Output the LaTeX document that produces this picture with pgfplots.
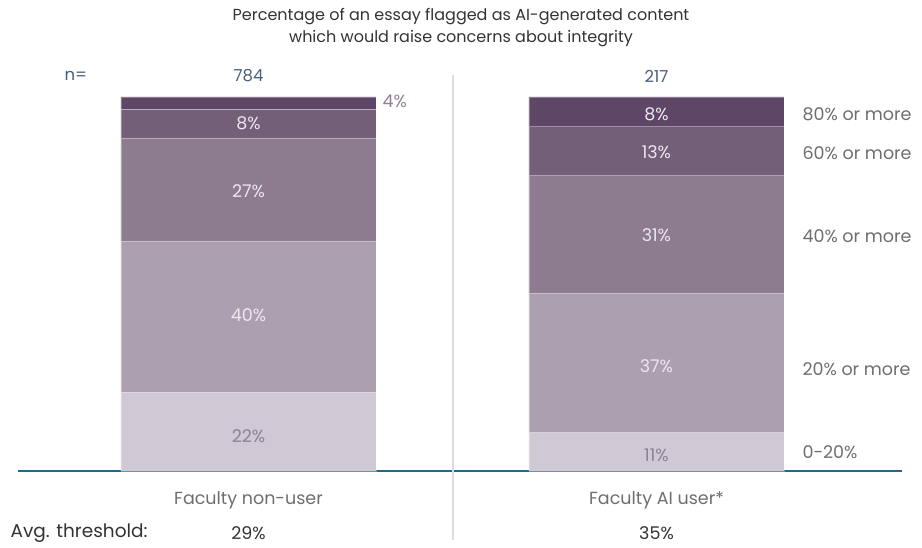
\documentclass[border=0pt]{standalone}
\usepackage{fontspec}
\setmainfont{Poppins}
\usepackage{pgfplots}
\pgfplotsset{compat=1.18}
\definecolor{c80}{HTML}{5E4766}
\definecolor{c60}{HTML}{735F78}
\definecolor{c40}{HTML}{8D7B90}
\definecolor{c20}{HTML}{ACA0B0}
\definecolor{c0}{HTML}{D0C8D4}
\definecolor{lblin}{HTML}{EDE6EF}
\definecolor{lbldark}{HTML}{8F8094}
\definecolor{leg}{HTML}{6E6E6E}
\definecolor{nblue}{HTML}{4A5E7A}
\definecolor{base}{HTML}{1F6A8A}
\definecolor{divider}{HTML}{DCDCDC}
\begin{document}
\begin{tikzpicture}[x=1pt,y=1pt,font=\fontsize{17.5}{20}\selectfont]
\path (0,0) rectangle (922,548);
\begin{axis}[
  at={(18pt,77pt)}, anchor=south west,
  scale only axis, width=884pt, height=374pt,
  xmin=-0.565, xmax=1.602, ymin=0, ymax=100,
  ybar stacked, bar width=255pt,
  axis x line*=bottom, axis y line=none,
  x axis line style={base, line width=1.6pt, -},
  xtick=\empty, ytick=\empty,
  clip=false,
  every axis plot/.append style={draw=white, draw opacity=0.3, line width=0.8pt},
]
\addplot[fill=c0] coordinates {(0,21.1) (1,10.2)};
\addplot[fill=c20] coordinates {(0,40.4) (1,37.4)};
\addplot[fill=c40] coordinates {(0,27.3) (1,31.5)};
\addplot[fill=c60] coordinates {(0,7.8) (1,13.1)};
\addplot[fill=c80] coordinates {(0,3.4) (1,7.8)};
\coordinate (a1) at (axis cs:0,9.4);
\coordinate (a2) at (axis cs:0,41.6);
\coordinate (a3) at (axis cs:0,74.9);
\coordinate (a4) at (axis cs:0,93.1);
\coordinate (a5) at (axis cs:0.32,98.8);
\coordinate (b1) at (axis cs:1,4.3);
\coordinate (b2) at (axis cs:1,27.9);
\coordinate (b3) at (axis cs:1,63.1);
\coordinate (b4) at (axis cs:1,85.2);
\coordinate (b5) at (axis cs:1,95.5);
\end{axis}
% segment labels
\node[text=lbldark] at (a1) {22\%};
\node[text=lblin] at (a2) {40\%};
\node[text=lblin] at (a3) {27\%};
\node[text=lblin] at (a4) {8\%};
\node[text=lbldark, anchor=west] at (a5) {4\%};
\node[text=lbldark] at (b1) {11\%};
\node[text=lblin] at (b2) {37\%};
\node[text=lblin] at (b3) {31\%};
\node[text=lblin] at (b4) {13\%};
\node[text=lblin] at (b5) {8\%};
% divider
\draw[divider, line width=1.2pt] (453,473) -- (453,8);
% title
\node[text=black!80, font=\fontsize{16}{18}\selectfont] at (461,531) {Percentage of an essay flagged as AI-generated content};
\node[text=black!80, font=\fontsize{16}{18}\selectfont] at (461,509) {which would raise concerns about integrity};
% n
\node[text=nblue, anchor=west, font=\fontsize{16.5}{18}\selectfont] at (61,472) {n=};
\node[text=nblue, font=\fontsize{16.5}{18}\selectfont] at (248.5,472) {784};
\node[text=nblue, font=\fontsize{16.5}{18}\selectfont] at (656.5,472) {217};
% legend labels
\node[text=leg, anchor=west] at (799,434) {80\% or more};
\node[text=leg, anchor=west] at (799,395) {60\% or more};
\node[text=leg, anchor=west] at (799,312) {40\% or more};
\node[text=leg, anchor=west] at (799,179) {20\% or more};
\node[text=leg, anchor=west] at (799,96) {0-20\%};
% categories
\node[text=leg] at (248.5,48) {Faculty non-user};
\node[text=leg] at (656.5,48) {Faculty AI user*};
\node[text=black!80, anchor=west, font=\fontsize{18.5}{20}\selectfont] at (7,15) {Avg. threshold:};
\node[text=black!80] at (248.5,15) {29\%};
\node[text=black!80] at (656.5,15) {35\%};
\end{tikzpicture}
\end{document}
